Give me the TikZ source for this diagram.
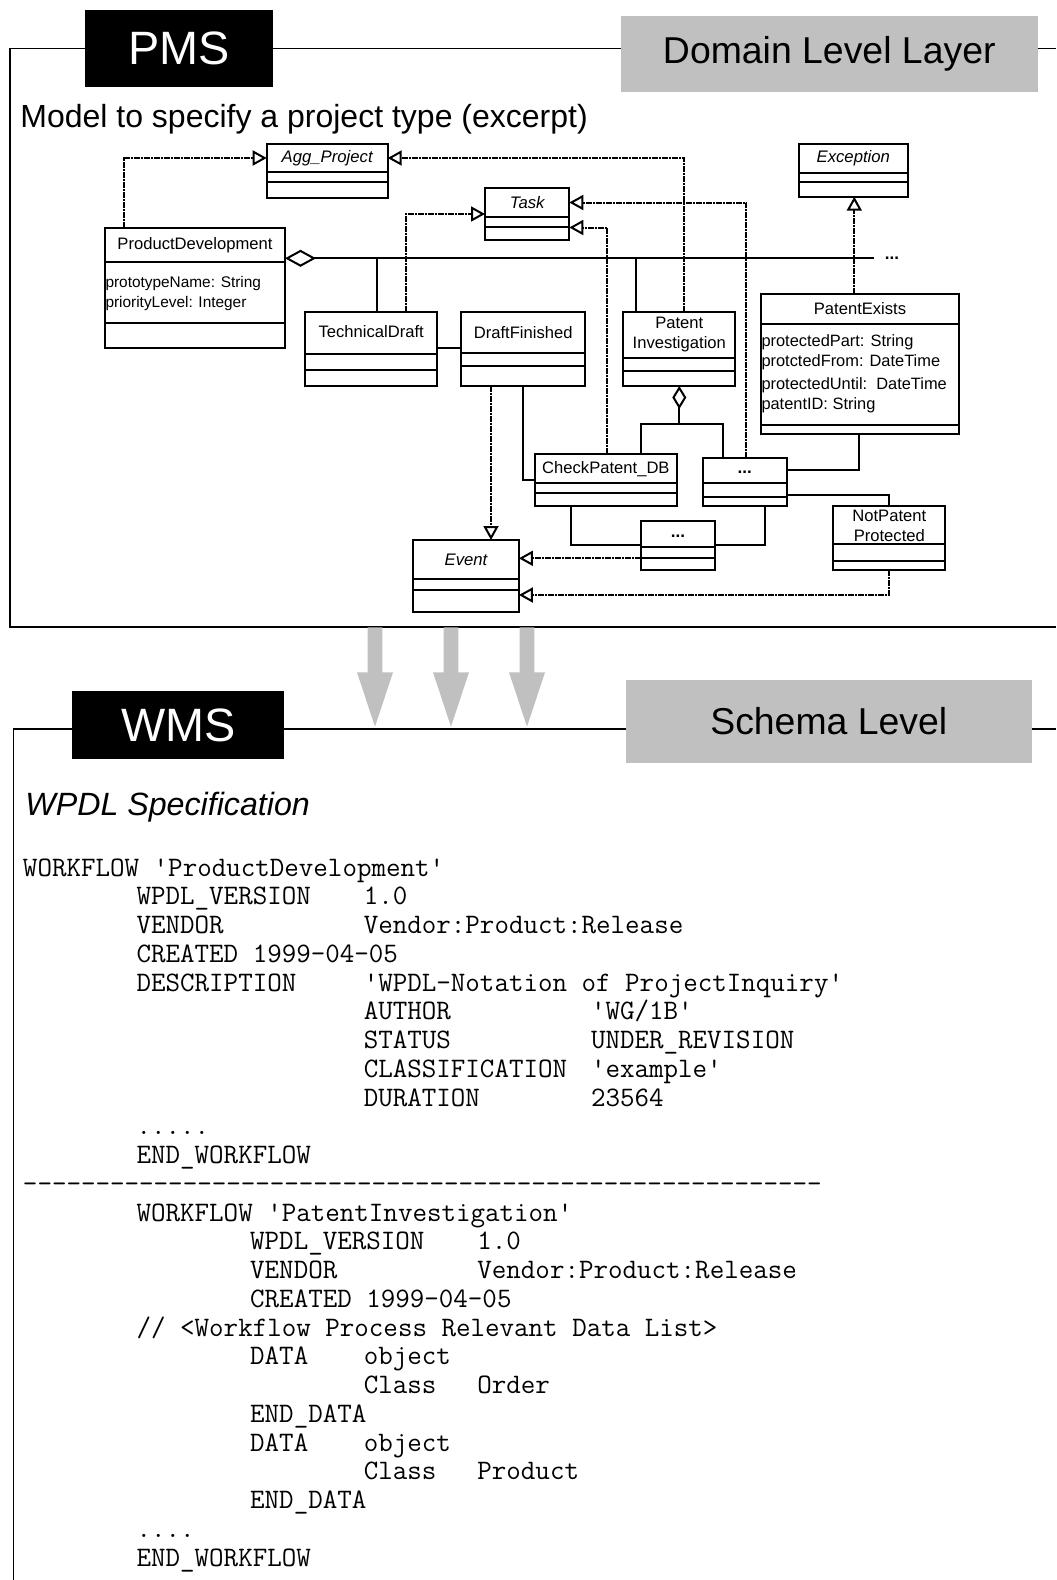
\documentclass[tikz,border=0pt]{standalone}
\usepackage{fontspec}
\setmainfont{Liberation Sans}
\usetikzlibrary{arrows.meta}
\definecolor{lgray}{RGB}{192,192,192}
\tikzset{
  umlb/.style={draw, line width=1.05pt, fill=white, inner sep=0pt, outer sep=0pt},
  uline/.style={line width=1.05pt},
  cname/.style={inner sep=0pt, outer sep=0pt, font=\fontsize{8.3}{10}\selectfont, align=center},
  cital/.style={inner sep=0pt, outer sep=0pt, font=\itshape\fontsize{8.35}{10}\selectfont},
  attr/.style={inner sep=0pt, outer sep=0pt, anchor=west, font=\fontsize{8.2}{9.5}\selectfont},
  attrs/.style={attr, font=\fontsize{7.7}{9.5}\selectfont},
  dots/.style={inner sep=0pt, outer sep=0pt, anchor=base, font=\bfseries\fontsize{8.5}{10}\selectfont},
  gen/.style={line width=1pt, dash pattern=on 3pt off 0.5pt on 1pt off 0.5pt,
              -{Triangle[length=7pt,width=7.5pt,fill=white]}},
  sol/.style={line width=1pt},
  frame/.style={line width=0.9pt},
  hblack/.style={fill=black, text=white, inner sep=0pt, outer sep=0pt, font=\fontsize{23.4}{28}\selectfont},
  hgray/.style={fill=lgray, text=black, inner sep=0pt, outer sep=0pt, font=\fontsize{18.7}{22}\selectfont},
  code/.style={inner sep=0pt, outer sep=0pt, anchor=base west, font=\ttfamily\fontsize{14.1}{16}\selectfont},
}
\newcommand\umlbox[7]{%
  \node[umlb, minimum width={(#4-#2)*0.5pt}, minimum height={(#5-#3)*0.5pt}] (#1) at ({(#2+#4)/2},{(#3+#5)/2}) {};
  \draw[uline] (#1.west |- 0,#6) -- (#1.east |- 0,#6);
  \draw[uline] (#1.west |- 0,#7) -- (#1.east |- 0,#7);}
\newcommand\codeln[3]{\node[code] (c#1-#2) at ({23+14.2*#2},{876+28.75*#1}) {#3};}
\newcommand\garrow[2]{\fill[lgray] ({#2-7.4},627.3) -- ({#2+7.4},627.3) -- ({#2+7.4},672.3) -- ({#2+18},672.3) -- (#2,726.7) -- ({#2-18},672.3) -- ({#2-7.4},672.3) -- cycle;}
\newcommand\dd{-\kern0pt}
\newcommand\ddd{\dd\dd\dd\dd\dd}
\begin{document}
\begin{tikzpicture}[x=0.5pt,y=-0.5pt]
\useasboundingbox (0,0) rectangle (1056,1580);
% ---------- header top ----------
\node[hblack, minimum width=188.4*0.5pt, minimum height=76.6*0.5pt] (pms) at (178.8,48.3) {PMS};
\node[hgray, minimum width=417.1*0.5pt, minimum height=75.7*0.5pt] (dll) at (829.3,53.9) {Domain Level Layer};
\draw[frame] (pms.west |- 0,48.4) -- (10,48.4) -- (10,627.3) -- (1056,627.3);
\draw[frame] (pms.east |- 0,48.4) -- (dll.west |- 0,48.4);
\draw[frame] (dll.east |- 0,48.4) -- (1056,48.4);
\node[anchor=base west, inner sep=0pt, font=\fontsize{16}{19}\selectfont] (model) at (20,127.5) {Model to specify a project type (excerpt)};
% ---------- classes ----------
\umlbox{agg}{266.7}{144}{387.7}{198.3}{172.3}{182.3}
\node[cital] (agg-n) at (327.2,158.2) {Agg\_Project};
\umlbox{task}{485}{188.3}{569.3}{240}{216.7}{226.7}
\node[cital] (task-n) at (527.2,202.5) {Task};
\umlbox{exc}{799}{144}{907.7}{196.7}{172.7}{182.3}
\node[cital] (exc-n) at (853.3,158.3) {Exception};
\umlbox{pd}{105}{228.3}{285}{348.3}{261.7}{323.3}
\node[cname] (pd-n) at (195,245) {ProductDevelopment};
\node[attrs] (pd-a1) at (105.5,283.3) {prototypeName: String};
\node[attrs] (pd-a2) at (105.5,303.3) {priorityLevel: Integer};
\umlbox{td}{305}{311.7}{437.3}{386}{354.3}{370.3}
\node[cname] (td-n) at (371.2,331.7) {TechnicalDraft};
\umlbox{df}{461}{311.7}{585.3}{386}{352.7}{366.3}
\node[cname] (df-n) at (523.2,332.3) {DraftFinished};
\umlbox{pi}{623.3}{311.7}{735.3}{386}{358.3}{371}
\node[cname] (pi-n) at (679.3,334.5) {Patent\\Investigation};
\umlbox{pe}{761}{294.3}{959.3}{434}{324}{424.7}
\node[cname] (pe-n) at (860,309) {PatentExists};
\node[attr] (pe-a1) at (761.5,342.3) {protectedPart: String};
\node[attr] (pe-a2) at (761.5,362.3) {protctedFrom: DateTime};
\node[attr] (pe-a3) at (761.5,385) {protectedUntil:\ \ DateTime};
\node[attr] (pe-a4) at (761.5,405) {patentID: String};
\umlbox{cp}{535}{454}{676.8}{506}{483.3}{493.3}
\node[cname] (cp-n) at (605.9,469.3) {CheckPatent\_DB};
\umlbox{dA}{702.9}{458.3}{786.8}{506}{483.3}{496.7}
\node[dots] (dA-n) at (744.8,473.5) {...};
\umlbox{dB}{641.1}{520.7}{715}{570}{546.7}{558.3}
\node[dots] (dB-n) at (678,537.5) {...};
\umlbox{np}{833.2}{506}{945.4}{570}{544}{560.7}
\node[cname] (np-n) at (889.3,525.5) {NotPatent\\Protected};
\umlbox{ev}{413.2}{540}{518.9}{611.7}{579.3}{590}
\node[cital] (ev-n) at (466,560) {Event};
% ---------- generalizations ----------
\draw[gen] (124.3,0 |- pd.north) |- (agg.west |- 0,158);
\draw[gen] (684,0 |- pi.north) |- (agg.east |- 0,158);
\draw[gen] (405.5,0 |- td.north) |- (task.west |- 0,214);
\draw[gen] (607,0 |- cp.north) |- (task.east |- 0,227.5);
\draw[gen] (745.7,0 |- dA.north) |- (task.east |- 0,202.5);
\draw[gen] (854.3,0 |- pe.north) -- (854.3,0 |- exc.south);
\draw[gen] (491,0 |- df.south) -- (491,0 |- ev.north);
\draw[gen] (dB.west |- 0,558.3) -- (ev.east |- 0,558.3);
\draw[gen] (889.3,0 |- np.south) |- (ev.east |- 0,595);
% ---------- associations ----------
\draw[sol, {Diamond[length=15.5pt,width=8.5pt,fill=white]}-] (pd.east |- 0,258.3) -- (874.3,258.3) coordinate (aggend);
\node[dots] (more) at (892,259) {...};
\draw[sol] (377.3,258.3) -- (377.3,0 |- td.north);
\draw[sol] (617.3,258.3) -- (635.5,258.3) -- (635.5,0 |- pi.north);
\draw[sol] (td.east |- 0,347.7) -- (df.west |- 0,347.7);
\draw[sol] (523,0 |- df.south) |- (cp.west |- 0,480);
\draw[sol, {Diamond[length=11.5pt,width=7pt,fill=white]}-] (679.3,0 |- pi.south) -- (679.3,424.3) coordinate (pij);
\draw[sol] (641,0 |- cp.north) |- (pij) -| (723.2,0 |- dA.north);
\draw[sol] (859.3,0 |- pe.south) |- (dA.east |- 0,470);
\draw[sol] (dA.east |- 0,495) -| (889.3,0 |- np.north);
\draw[sol] (571.4,0 |- cp.south) |- (dB.west |- 0,545);
\draw[sol] (765,0 |- dA.south) |- (dB.east |- 0,545);
% ---------- gray arrows ----------
\garrow{a1}{375}
\garrow{a2}{451}
\garrow{a3}{527}
% ---------- header bottom ----------
\node[hblack, minimum width=211.5*0.5pt, minimum height=68*0.5pt] (wms) at (178.2,725) {WMS};
\node[hgray, minimum width=405.6*0.5pt, minimum height=82.7*0.5pt] (sl) at (828.8,721.3) {Schema Level};
\draw[frame] (wms.west |- 0,729) -- (13.5,729) -- (13.5,1580);
\draw[frame] (wms.east |- 0,729) -- (sl.west |- 0,729);
\draw[frame] (sl.east |- 0,729) -- (1056,729);
\node[anchor=base west, inner sep=0pt, font=\itshape\fontsize{16.1}{19}\selectfont] (wpdl) at (25,815) {WPDL Specification};
% ---------- code ----------
\codeln{0}{0}{WORKFLOW 'ProductDevelopment'}
\codeln{1}{8}{WPDL\_VERSION}
\codeln{1}{24}{1.0}
\codeln{2}{8}{VENDOR}
\codeln{2}{24}{Vendor:Product:Release}
\codeln{3}{8}{CREATED 1999-04-05}
\codeln{4}{8}{DESCRIPTION}
\codeln{4}{24}{'WPDL-Notation of ProjectInquiry'}
\codeln{5}{24}{AUTHOR}
\codeln{5}{40}{'WG/1B'}
\codeln{6}{24}{STATUS}
\codeln{6}{40}{UNDER\_REVISION}
\codeln{7}{24}{CLASSIFICATION}
\codeln{7}{40}{'example'}
\codeln{8}{24}{DURATION}
\codeln{8}{40}{23564}
\codeln{9}{8}{.....}
\codeln{10}{8}{END\_WORKFLOW}
\codeln{11}{0}{\ddd\ddd\ddd\ddd\ddd\ddd\ddd\ddd\ddd\ddd\ddd}
\codeln{12}{8}{WORKFLOW 'PatentInvestigation'}
\codeln{13}{16}{WPDL\_VERSION}
\codeln{13}{32}{1.0}
\codeln{14}{16}{VENDOR}
\codeln{14}{32}{Vendor:Product:Release}
\codeln{15}{16}{CREATED 1999-04-05}
\codeln{16}{8}{// <Workflow Process Relevant Data List>}
\codeln{17}{16}{DATA}
\codeln{17}{24}{object}
\codeln{18}{24}{Class}
\codeln{18}{32}{Order}
\codeln{19}{16}{END\_DATA}
\codeln{20}{16}{DATA}
\codeln{20}{24}{object}
\codeln{21}{24}{Class}
\codeln{21}{32}{Product}
\codeln{22}{16}{END\_DATA}
\codeln{23}{8}{....}
\codeln{24}{8}{END\_WORKFLOW}
\end{tikzpicture}
\end{document}
